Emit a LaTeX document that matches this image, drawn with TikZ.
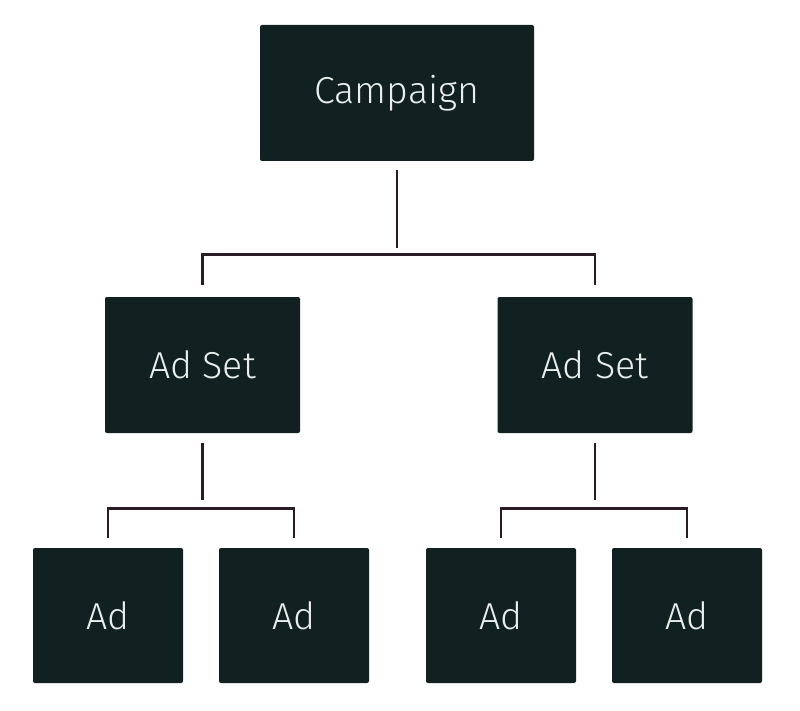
\documentclass[tikz,border=0pt]{standalone}
\usepackage{fontspec}
\setmainfont{Fira Sans}[UprightFont=* Light]
\usetikzlibrary{calc}
\definecolor{boxfill}{HTML}{112020}
\definecolor{linecol}{HTML}{2B1B25}
\definecolor{txt}{HTML}{E8EEEC}
\begin{document}
\begin{tikzpicture}[x=1pt,y=-1pt,
  box/.style={fill=boxfill,draw=none,rounded corners=2pt,text=txt,font=\fontsize{37.5}{40}\selectfont,inner sep=0pt},
  conn/.style={draw=linecol,line width=2.8pt}]
\useasboundingbox (0,0) rectangle (800,711);
\node[box,minimum width=274pt,minimum height=136pt] (camp) at (397,93) {\raisebox{-2pt}{Campaign}};
\node[box,minimum width=195pt,minimum height=136pt] (as1) at (202.5,365) {Ad Set};
\node[box,minimum width=195pt,minimum height=136pt] (as2) at (595,365) {Ad Set};
\node[box,minimum width=150pt,minimum height=135pt] (ad1) at (108,615.5) {Ad};
\node[box,minimum width=150pt,minimum height=135pt] (ad2) at (294,615.5) {Ad};
\node[box,minimum width=150pt,minimum height=135pt] (ad3) at (501,615.5) {Ad};
\node[box,minimum width=150pt,minimum height=135pt] (ad4) at (687,615.5) {Ad};
% campaign to ad sets
\draw[conn] ($(camp.south)+(0,9)$) -- ($(camp.south)+(0,87)$);
\draw[conn] ($(as1.north)+(0,-12)$) |- ($(camp.south)+(0,93)$) -| ($(as2.north)+(0,-12)$);
% ad set 1 to ads
\draw[conn] ($(as1.south)+(0,10)$) -- ($(as1.south)+(0,67)$);
\draw[conn] ($(ad1.north)+(0,-10)$) |- ($(as1.south)+(0,75)$) -| ($(ad2.north)+(0,-10)$);
% ad set 2 to ads
\draw[conn] ($(as2.south)+(0,10)$) -- ($(as2.south)+(0,67)$);
\draw[conn] ($(ad3.north)+(0,-10)$) |- ($(as2.south)+(0,75)$) -| ($(ad4.north)+(0,-10)$);
\end{tikzpicture}
\end{document}
